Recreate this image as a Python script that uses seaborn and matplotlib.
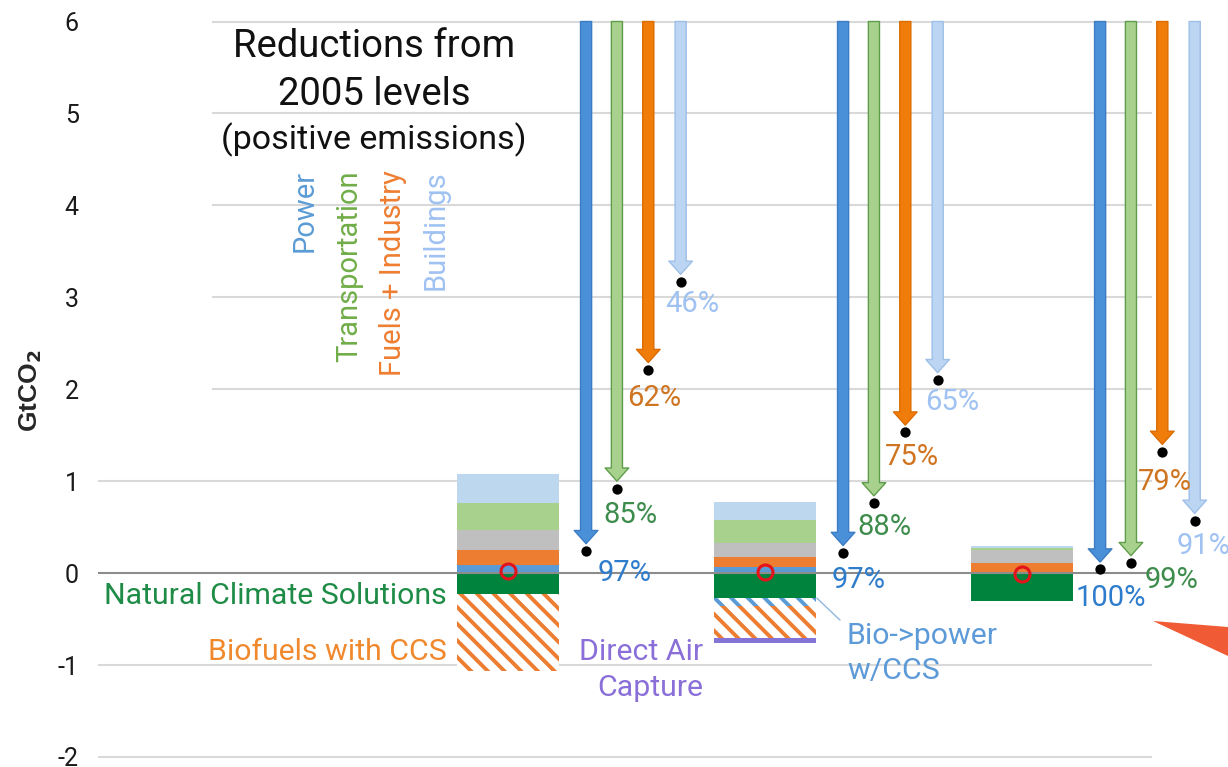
import numpy as np
import pandas as pd
import matplotlib
matplotlib.use('Agg')
import matplotlib.pyplot as plt
from matplotlib.patches import FancyArrowPatch, Polygon
import seaborn as sns

# three pathways (their names are cut off in the source, so no x labels)
scenarios = ['Pathway 1', 'Pathway 2', 'Pathway 3']
sectors = ['Power', 'Transportation', 'Fuels + Industry', 'Buildings']

# emissions still left in each sector (black dots), GtCO2
power_left = [0.24, 0.22, 0.04]
transport_left = [0.92, 0.76, 0.11]
fuels_left = [2.21, 1.53, 1.32]
buildings_left = [3.17, 2.10, 0.57]

# reduction from 2005 levels, %
power_pct = [97, 97, 100]
transport_pct = [85, 88, 99]
fuels_pct = [62, 75, 79]
buildings_pct = [46, 65, 91]

# stacked bar, positive emissions (bottom to top), GtCO2
power_bar = [0.09, 0.07, 0.0]
fuels_bar = [0.16, 0.11, 0.11]
other_bar = [0.22, 0.15, 0.14]
transport_bar = [0.29, 0.25, 0.02]
buildings_bar = [0.32, 0.19, 0.02]

# stacked bar, negative emissions (top to bottom), GtCO2
ncs_bar = [-0.23, -0.27, -0.30]
biopower_ccs_bar = [0.0, -0.09, 0.0]
biofuels_ccs_bar = [-0.83, -0.35, 0.0]
dac_bar = [0.0, -0.05, 0.0]

sns.set_theme(style='white')
plt.rcParams['font.family'] = ['Roboto', 'DejaVu Sans']
plt.rcParams['hatch.linewidth'] = 2.8

fig = plt.figure(figsize=(12.28, 7.67), dpi=100)
ax = fig.add_axes([98 / 1228, 0, 1 - 98 / 1228, 1])

# gridlines (upper part starts right of the text box)
ax.hlines([6, 5, 4, 3, 2], -1.152, 2.506, colors='#d9d9d9', lw=1.5, zorder=0)
ax.hlines([1, -1, -2], -1.595, 2.506, colors='#d9d9d9', lw=1.5, zorder=0)
ax.hlines([0], -1.595, 2.506, colors='#8c8c8c', lw=1.5, zorder=2.5)

# positive stack: draw cumulative tops from tallest down
pos_layers = [power_bar, fuels_bar, other_bar, transport_bar, buildings_bar]
pos_colors = ['#5b9bd5', '#ed7d31', '#bfbfbf', '#a9d18e', '#bdd7ee']
pos_cum = np.cumsum(np.array(pos_layers), axis=0)
for k in range(len(pos_layers) - 1, -1, -1):
    sns.barplot(x=scenarios, y=pos_cum[k], order=scenarios, color=pos_colors[k],
                width=0.4, saturation=1, errorbar=None, linewidth=0, ax=ax, zorder=2)

# negative stack
neg_layers = [ncs_bar, biopower_ccs_bar, biofuels_ccs_bar, dac_bar]
neg_cum = np.cumsum(np.array(neg_layers), axis=0)
neg_style = [
    dict(color='#00843d', edgecolor='#00843d', hatch=None),
    dict(color='white', edgecolor='#5b9bd5', hatch='\\\\'),
    dict(color='white', edgecolor='#ed7d31', hatch='\\\\'),
    dict(color='#8574d6', edgecolor='#8574d6', hatch=None),
]
for k in range(len(neg_layers) - 1, -1, -1):
    sns.barplot(x=scenarios, y=neg_cum[k], order=scenarios, width=0.4, saturation=1,
                errorbar=None, linewidth=0, ax=ax, zorder=2, **neg_style[k])

# net total marker
net = pos_cum[-1] + neg_cum[-1]
ax.plot(range(len(scenarios)), net, 'o', ms=10.8, mfc='none', mec='#e3131b', mew=2.2, zorder=5)

# sector arrows from the top of the chart down to what is left
arrow_dx = [0.304, 0.424, 0.546, 0.672]
arrow_fc = ['#4a90d9', '#a9d18e', '#f07c0a', '#bcd5f3']
arrow_ec = ['#3b7cc4', '#5e9e4a', '#dc6c00', '#9dbfe8']
pct_color = ['#2e7ccc', '#3d8c4c', '#cf7420', '#9fc2f2']
lefts = [power_left, transport_left, fuels_left, buildings_left]
pcts = [power_pct, transport_pct, fuels_pct, buildings_pct]
# label nudges in pixels (right, down) from the dot, per pathway and sector
nudge = [
    [(12, 22), (-14, 26), (-21, 28), (-15, 22)],
    [(-11, 27), (-17, 24), (-20, 25), (-13, 22)],
    [(-25, 29), (14, 17), (-24, 30), (-18, 25)],
]
for j in range(len(sectors)):
    xs = np.arange(len(scenarios)) + arrow_dx[j]
    for i, x in enumerate(xs):
        arr = FancyArrowPatch((x, 6.0), (x, lefts[j][i] + 0.08),
                              arrowstyle='simple,head_length=0.95,head_width=1.7,tail_width=0.8',
                              mutation_scale=10, fc=arrow_fc[j], ec=arrow_ec[j], lw=1,
                              shrinkA=0, shrinkB=0, zorder=3)
        ax.add_patch(arr)
        dx, dy = nudge[i][j]
        ax.annotate(f'{pcts[j][i]}%', xy=(x, lefts[j][i]), xytext=(dx * 0.72, -dy * 0.72),
                    textcoords='offset points', ha='left', va='center', fontsize=21,
                    color=pct_color[j], zorder=6)
    ax.scatter(xs, lefts[j], s=55, color='black', zorder=4, linewidths=0)

# text block
ax.text(-0.521, 5.723, 'Reductions from', ha='center', va='center', fontsize=27.5, color='#111111')
ax.text(-0.521, 5.211, '2005 levels', ha='center', va='center', fontsize=27.5, color='#111111')
ax.text(-0.521, 4.711, '(positive emissions)', ha='center', va='center', fontsize=24.5, color='#111111')
for x, name, c in zip([-0.790, -0.619, -0.447, -0.280], sectors,
                      ['#5b9bd5', '#70ad47', '#ed7d31', '#9fc2f2']):
    ax.text(x, 4.385, name, rotation=90, ha='center', va='top', fontsize=21, color=c)

ax.text(-0.237, -0.25, 'Natural Climate Solutions', ha='right', va='center', fontsize=21.8, color='#1e8c46')
ax.text(-0.237, -0.859, 'Biofuels with CCS', ha='right', va='center', fontsize=21.8, color='#f0892e')
ax.text(0.759, -0.859, 'Direct Air', ha='right', va='center', fontsize=21.8, color='#8a6fd8')
ax.text(0.759, -1.251, 'Capture', ha='right', va='center', fontsize=21.8, color='#8a6fd8')
ax.text(1.319, -0.685, 'Bio->power', ha='left', va='center', fontsize=21.8, color='#5d9ad8')
ax.text(1.319, -1.066, 'w/CCS', ha='left', va='center', fontsize=21.8, color='#5d9ad8')
ax.plot([1.202, 1.292], [-0.272, -0.511], color='#8fb8e0', lw=1, zorder=3)

# axes styling
ax.set_xlim(-1.595, 2.8016)
ax.set_ylim(-2.109, 6.234)
ax.set_xticks([])
ax.set_yticks(range(-2, 7))
ax.set_yticklabels([str(v) for v in range(-2, 7)], fontsize=18, color='#1a1a1a')
ax.tick_params(axis='y', length=0, pad=13.7)
ax.set_xlabel('')
ax.set_ylabel('')
for s in ax.spines.values():
    s.set_visible(False)
ax.patch.set_alpha(0)

fig.text(31 / 1228, 1 - 391 / 767, r'GtCO$_\mathbf{2}$', rotation=90, ha='center', va='center',
         fontsize=19, fontweight='bold', family=['Liberation Sans', 'DejaVu Sans'])

# red pointer in the corner
fig.patches.append(Polygon([(1153 / 1228, 1 - 621 / 767), (1.0, 1 - 627 / 767), (1.0, 1 - 656 / 767)],
                           closed=True, transform=fig.transFigure, fc='#f05b35', ec='none'))

fig.savefig('out.png', dpi=100)
